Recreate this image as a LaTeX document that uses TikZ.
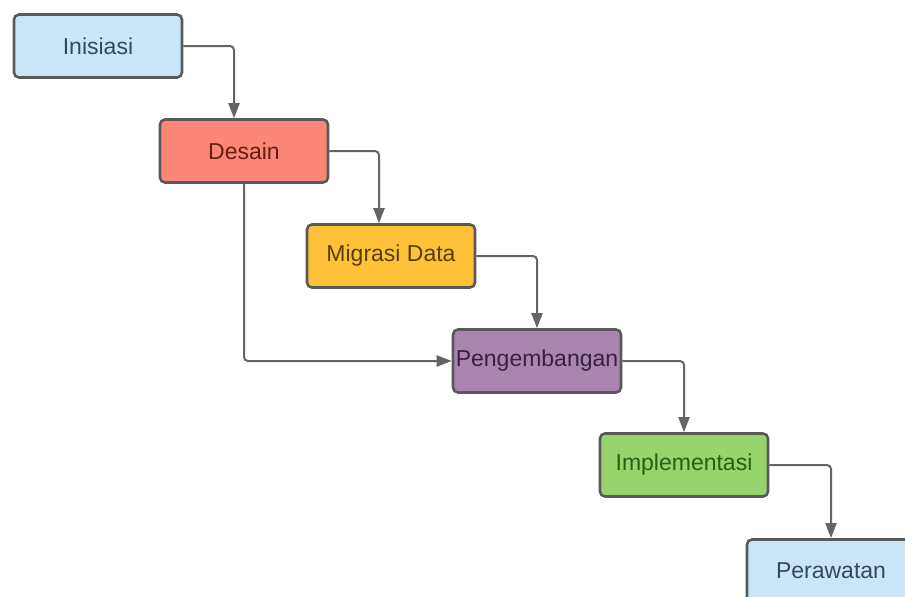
\documentclass[tikz,border=0pt]{standalone}
\usepackage{fontspec}
\setmainfont{Liberation Sans}
\usetikzlibrary{arrows.meta}
\definecolor{bluef}{HTML}{C9E6F8}
\definecolor{bluet}{HTML}{34495A}
\definecolor{redf}{HTML}{FA8777}
\definecolor{redt}{HTML}{6A1C16}
\definecolor{yelf}{HTML}{FDC237}
\definecolor{yelt}{HTML}{583E05}
\definecolor{purf}{HTML}{A985AF}
\definecolor{purt}{HTML}{38203E}
\definecolor{grnf}{HTML}{98D46C}
\definecolor{grnt}{HTML}{2C5A18}
\definecolor{edge}{HTML}{595959}
\definecolor{wire}{HTML}{646464}
\begin{document}
\begin{tikzpicture}[x=1pt,y=-1pt,
  box/.style={draw=edge,line width=2.6pt,rounded corners=5pt,minimum width=168pt,minimum height=63pt,inner sep=0pt,font=\fontsize{23}{26}\selectfont},
  conn/.style={draw=wire,line width=2pt,rounded corners=4pt,-{Triangle[length=15pt,width=11pt]}}]
\useasboundingbox (0,0) rectangle (905,597);
\node[box,fill=bluef,text=bluet] (ini) at (98,46) {Inisiasi};
\node[box,fill=redf,text=redt] (des) at (244,151) {Desain};
\node[box,fill=yelf,text=yelt] (mig) at (391,256) {Migrasi Data};
\node[box,fill=purf,text=purt] (pen) at (537,361) {Pengembangan};
\node[box,fill=grnf,text=grnt] (imp) at (684,465) {Implementasi};
\node[box,fill=bluef,text=bluet] (per) at (831,571) {Perawatan};
\draw[conn] (ini.east) -| ([xshift=-10pt]des.north);
\draw[conn] (des.east) -| ([xshift=-12pt]mig.north);
\draw[conn] (mig.east) -| (pen.north);
\draw[conn] (pen.east) -| (imp.north);
\draw[conn] (imp.east) -| (per.north);
\draw[conn] (des.south) |- (pen.west);
\end{tikzpicture}
\end{document}
